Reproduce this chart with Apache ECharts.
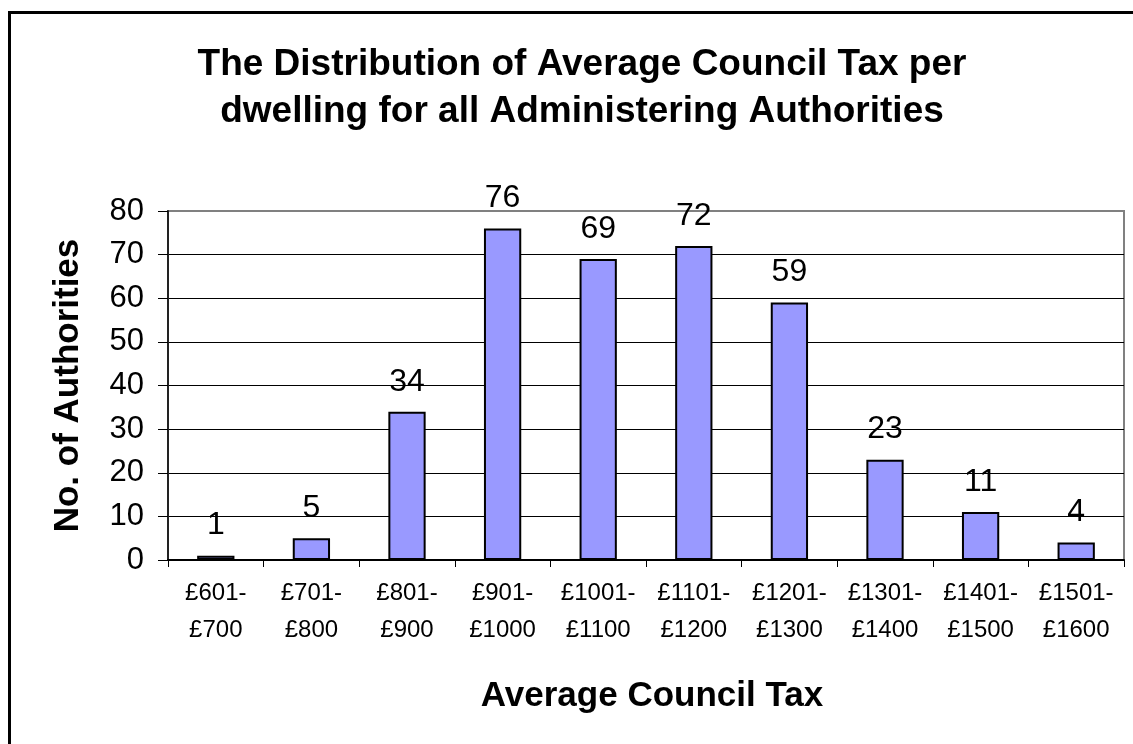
<!DOCTYPE html>
<html>
<head>
<meta charset="utf-8">
<title>Average Council Tax distribution</title>
<script src="https://cdn.jsdelivr.net/npm/echarts@6/dist/echarts.min.js"></script>
<style>
  html, body { margin: 0; padding: 0; background: #fff; }
  #chart { width: 1133px; height: 744px; }
</style>
</head>
<body>
<div id="chart"></div>
<script>
// Council tax bands (two-line labels) and the number of authorities in each
const bands = ['£601-\n£700', '£701-\n£800', '£801-\n£900', '£901-\n£1000', '£1001-\n£1100',
               '£1101-\n£1200', '£1201-\n£1300', '£1301-\n£1400', '£1401-\n£1500', '£1501-\n£1600'];
const authorities = [1, 5, 34, 76, 69, 72, 59, 23, 11, 4];
const yTicks = { min: 0, max: 80, step: 10 };

const FONT = '"Liberation Sans", Arial, sans-serif';
const chart = echarts.init(document.getElementById('chart'), null, { renderer: 'canvas' });

chart.setOption({
  backgroundColor: '#ffffff',
  animation: false,
  graphic: [{
    // outer frame; its right and bottom edges run past the page
    type: 'rect',
    shape: { x: 9.5, y: 12.5, width: 1200, height: 800 },
    style: { fill: 'none', stroke: '#000', lineWidth: 3 },
    silent: true
  }],
  title: {
    text: 'The Distribution of Average Council Tax per\ndwelling for all Administering Authorities',
    left: 577,
    textAlign: 'center',
    top: 36,
    textStyle: { fontFamily: FONT, fontSize: 37, fontWeight: 'bold', color: '#000', lineHeight: 47 }
  },
  grid: {
    left: 168, right: 9, top: 211, bottom: 184,
    show: true, borderColor: '#808080', borderWidth: 2, backgroundColor: 'transparent'
  },
  xAxis: {
    type: 'category',
    data: bands,
    name: 'Average Council Tax',
    nameLocation: 'middle',
    nameGap: 119,
    nameTextStyle: { fontFamily: FONT, fontSize: 35, fontWeight: 'bold', color: '#000', padding: [0, 0, 0, 12] },
    axisLine: { lineStyle: { color: '#000', width: 2 } },
    axisTick: { show: true, length: 7, lineStyle: { color: '#000', width: 1 } },
    axisLabel: { fontFamily: FONT, fontSize: 24, color: '#000', lineHeight: 37, margin: 15, interval: 0 },
    splitLine: { show: false }
  },
  yAxis: {
    type: 'value',
    min: yTicks.min, max: yTicks.max, interval: yTicks.step,
    name: 'No. of Authorities',
    nameLocation: 'middle',
    nameGap: 82,
    nameTextStyle: { fontFamily: FONT, fontSize: 35, fontWeight: 'bold', color: '#000' },
    axisLine: { show: true, lineStyle: { color: '#222', width: 2 } },
    axisTick: { show: true, length: 10, lineStyle: { color: '#000', width: 1 } },
    axisLabel: { fontFamily: FONT, fontSize: 31, color: '#000', margin: 24 },
    splitLine: { show: true, showMinLine: false, showMaxLine: false, lineStyle: { color: '#000', width: 1 } }
  },
  series: [{
    type: 'bar',
    data: authorities,
    barWidth: '39%',
    itemStyle: { color: '#9999FF', borderColor: '#000', borderWidth: 2 },
    label: {
      show: true, position: 'top', distance: 14,
      fontFamily: FONT, fontSize: 32, color: '#000'
    }
  }]
});
</script>
</body>
</html>
